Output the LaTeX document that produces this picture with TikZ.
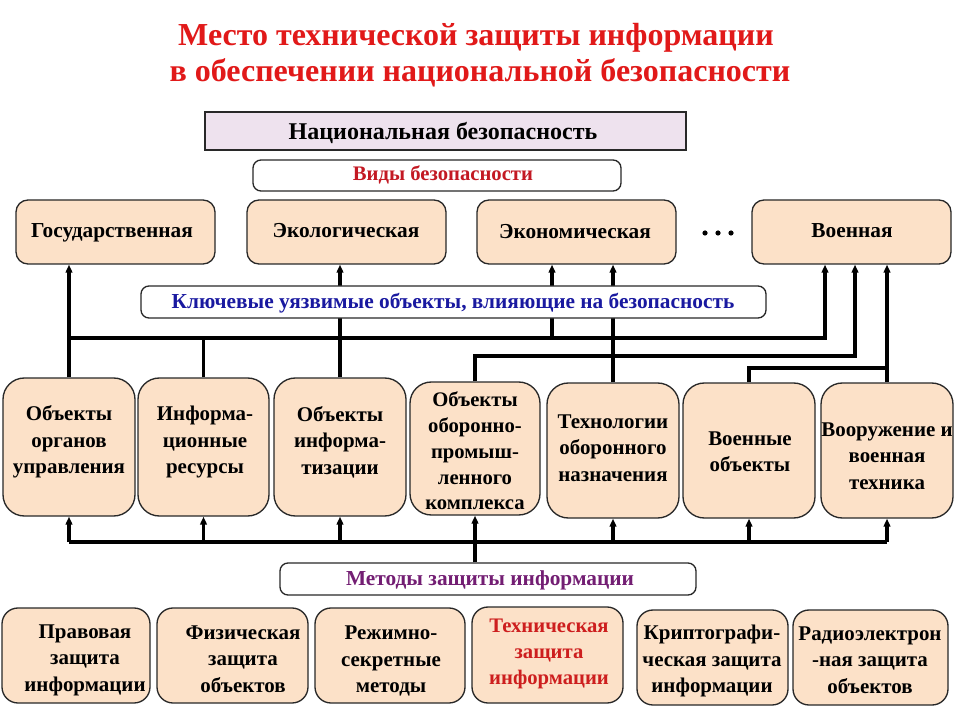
\documentclass[tikz,border=0pt]{standalone}
\usepackage{fontspec}
\setmainfont{Liberation Serif}
\usetikzlibrary{arrows.meta,fit}
\definecolor{peach}{RGB}{252,225,200}
\definecolor{lav}{RGB}{238,226,238}
\definecolor{edge}{RGB}{40,40,40}
\definecolor{titlered}{RGB}{225,25,25}
\definecolor{vidred}{RGB}{195,25,35}
\definecolor{keyblue}{RGB}{25,25,160}
\definecolor{metpurple}{RGB}{115,30,115}
\definecolor{techred}{RGB}{205,30,30}
\begin{document}
\begin{tikzpicture}[x=0.75pt,y=-0.75pt,
  box/.style={draw=edge, line width=1pt, fill=peach, inner sep=0pt},
  topbox/.style={box, rounded corners=9pt},
  midbox/.style={box, rounded corners=16pt},
  botbox/.style={box, rounded corners=12pt},
  lblbox/.style={draw=edge, line width=1pt, fill=white, rounded corners=6pt, inner sep=0pt},
  txt/.style={font=\bfseries\fontsize{15.7}{19.8}\selectfont, align=center, inner sep=0pt},
  one/.style={txt, anchor=base, font=\bfseries\fontsize{16}{19.8}\selectfont},
  ln/.style={line width=2.3pt, draw=black},
  arr/.style={ln, -{Triangle[length=6pt,width=5pt]}}]
\useasboundingbox (0,0) rectangle (960,720);
\fill[white] (0,0) rectangle (960,720);
% title
\node[font=\bfseries\fontsize{24}{28}\selectfont, text=titlered, inner sep=0pt] (title1) at (476,38) {Место технической защиты информации};
\node[font=\bfseries\fontsize{24}{28}\selectfont, text=titlered, inner sep=0pt] (title2) at (480,73) {в обеспечении национальной безопасности};
% national security
\node[draw=edge, line width=1pt, fill=lav, inner sep=0pt, fit={(205,112) (686,150)}] (nat) {};
\node[one, font=\bfseries\fontsize{18}{20}\selectfont] (natl) at (443,140) {Национальная безопасность};
\node[lblbox, fit={(253,160) (621,191)}] (vid) {};
\node[one, font=\bfseries\fontsize{15.5}{18}\selectfont, text=vidred] (vidl) at (443,181) {Виды безопасности};
% top boxes
\node[topbox, fit={(16,200) (215,264)}] (t1) {};
\node[topbox, fit={(247,200) (446,264)}] (t2) {};
\node[topbox, fit={(477,200) (676,264)}] (t3) {};
\node[topbox, fit={(752,200) (951,264)}] (t4) {};
\node[one] (t1l) at (112,238) {Государственная};
\node[one] (t2l) at (346,238) {Экологическая};
\node[one] (t3l) at (575,239) {Экономическая};
\node[one] (t4l) at (852,238) {Военная};
\fill (705,233) circle (2.6) (718,233) circle (2.6) (731,233) circle (2.6);
% middle boxes
\node[midbox, fit={(3,378) (135,516)}] (m1) {};
\node[midbox, fit={(138,378) (269,516)}] (m2) {};
\node[midbox, fit={(274,378) (406,516)}] (m3) {};
\node[midbox, fit={(410,382) (540,515)}] (m4) {};
\node[midbox, fit={(547,383) (679,518)}] (m5) {};
\node[midbox, fit={(683,383) (815,518)}] (m6) {};
\node[midbox, fit={(821,383) (953,518)}] (m7) {};
\node[txt] (m1l) at (69,442) {Объекты\\органов\\управления};
\node[txt] (m2l) at (205,442) {Информа-\\ционные\\ресурсы};
\node[txt] (m3l) at (340,442) {Объекты\\информа-\\тизации};
\node[txt, font=\bfseries\fontsize{15.5}{19.3}\selectfont] (m4l) at (475,451) {Объекты\\оборонно-\\промыш-\\ленного\\комплекса};
\node[txt] (m5l) at (613,448) {Технологии\\оборонного\\назначения};
\node[txt] (m6l) at (750,452) {Военные\\объекты};
\node[txt] (m7l) at (887,456) {Вооружение и\\военная\\техника};
% connectors top
\coordinate (busL) at (69,338);
\coordinate (busR) at (825,338);
\coordinate (ecoJ) at (552,338);
\coordinate (bus2R) at (855,356);
\coordinate (bus3R) at (887,368);
\draw[arr] (m1.north) -- (m1.north |- t1.south);
\draw[arr] (busL) -- (busR) -- (busR |- t4.south);
\draw[ln] (m2.north) -- (m2.north |- busL);
\draw[arr] (m3.north) -- (m3.north |- t2.south);
\draw[arr] (ecoJ) -- (ecoJ |- t3.south);
\draw[arr] (m4.north) |- (bus2R) -- (bus2R |- t4.south);
\draw[arr] (m5.north) -- (m5.north |- t3.south);
\draw[ln] (m6.north) |- (bus3R);
\draw[arr] (m7.north) -- (m7.north |- t4.south);
% key objects label
\node[lblbox, fit={(141,286) (766,318)}] (key) {};
\node[one, font=\bfseries\fontsize{16}{18}\selectfont, text=keyblue] (keyl) at (453,308) {Ключевые уязвимые объекты, влияющие на безопасность};
% methods label
\node[lblbox, fit={(280,563) (696,595)}] (met) {};
\node[one, font=\bfseries\fontsize{16}{18}\selectfont, text=metpurple] (metl) at (490,585) {Методы защиты информации};
% connectors bottom
\coordinate (bb) at (0,542);
\draw[arr] (m4.south |- met.north) -- (m4.south);
\draw[ln] (m1.south |- bb) -- (m7.south |- bb);
\foreach \m in {m1,m2,m3,m5,m6,m7} {\draw[arr] (\m.south |- bb) -- (\m.south);}
% bottom boxes
\node[botbox, fit={(2,608) (150,703)}] (b1) {};
\node[botbox, fit={(157,608) (308,703)}] (b2) {};
\node[botbox, fit={(315,608) (465,703)}] (b3) {};
\node[botbox, fit={(472,607) (623,703)}] (b4) {};
\node[botbox, fit={(637,610) (788,705)}] (b5) {};
\node[botbox, fit={(793,610) (948,705)}] (b6) {};
\node[txt] (b1l) at (85,660) {Правовая\\защита\\информации};
\node[txt] (b2l) at (243,659) {Физическая\\защита\\объектов};
\node[txt] (b3l) at (391,661) {Режимно-\\секретные\\методы};
\node[txt, text=techred, font=\bfseries\fontsize{15.5}{19.3}\selectfont] (b4l) at (549,654) {Техническая\\защита\\информации};
\node[txt] (b5l) at (712,661) {Криптографи-\\ческая защита\\информации};
\node[txt] (b6l) at (870,660) {Радиоэлектрон\\-ная защита\\объектов};
\end{tikzpicture}
\end{document}
